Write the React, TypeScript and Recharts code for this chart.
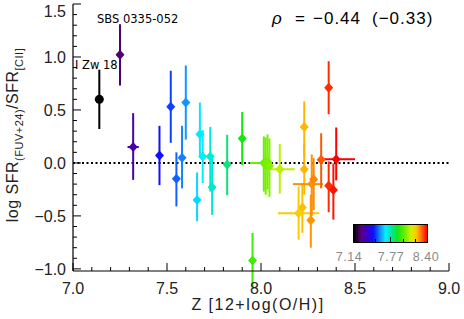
import { ScatterChart, Scatter, XAxis, YAxis, ErrorBar, ReferenceLine } from 'recharts'

// metallicity 12+log(O/H) of each galaxy
const metallicity = [
  7.14, 7.25, 7.32, 7.46, 7.52, 7.55, 7.58, 7.6, 7.66, 7.675, 7.69, 7.73, 7.74, 7.82, 7.9, 7.955,
  8.015, 8.025, 8.035, 8.045, 8.1, 8.2, 8.22, 8.23, 8.23, 8.265, 8.27, 8.28, 8.32, 8.36, 8.36, 8.385, 8.4,
]
// log SFR(FUV+24)/SFR[CII]
const sfrRatio = [
  0.6, 1.02, 0.15, 0.07, 0.53, -0.15, 0.05, 0.57, -0.35, 0.27, 0.06, 0.06, -0.23, -0.015, 0.23, -0.92,
  0.0, -0.02, 0.01, -0.03, -0.06, -0.475, -0.42, 0.34, -0.06, -0.54, -0.2, -0.155, 0.03, 0.71, -0.215, -0.255, 0.035,
]
const ratioErrLow = [
  0.28, 0.29, 0.31, 0.28, 0.34, 0.26, 0.29, 0.35, 0.2, 0.22, 0.25, 0.33, 0.26, 0.29, 0.25, 0.26,
  0.27, 0.28, 0.26, 0.29, 0.23, 0.25, 0.24, 0.27, 0.24, 0.26, 0.3, 0.29, 0.27, 0.25, 0.25, 0.28, 0.2,
]
const ratioErrHigh = [
  0.28, 0.29, 0.32, 0.28, 0.34, 0.25, 0.3, 0.35, 0.26, 0.3, 0.25, 0.28, 0.29, 0.28, 0.25, 0.26,
  0.25, 0.26, 0.26, 0.26, 0.24, 0.25, 0.23, 0.24, 0.24, 0.24, 0.28, 0.2, 0.25, 0.25, 0.23, 0.25, 0.3,
]
const zErrLow = [
  0, 0, 0.03, 0, 0, 0, 0, 0, 0, 0, 0, 0, 0, 0, 0, 0,
  0.075, 0, 0, 0, 0.05, 0.11, 0, 0, 0, 0, 0.1, 0, 0, 0, 0, 0, 0.07,
]
const zErrHigh = [
  0, 0, 0.03, 0, 0, 0, 0, 0, 0, 0, 0, 0, 0, 0, 0, 0,
  0.045, 0, 0, 0, 0.08, 0.11, 0, 0, 0, 0, 0.06, 0, 0, 0, 0, 0, 0.1,
]

const xTicks = [
  7.0, 7.1, 7.2, 7.3, 7.4, 7.5, 7.6, 7.7, 7.8, 7.9, 8.0, 8.1, 8.2, 8.3, 8.4, 8.5, 8.6, 8.7, 8.8, 8.9, 9.0,
]
const yTicks = [
  -1.0, -0.9, -0.8, -0.7, -0.6, -0.5, -0.4, -0.3, -0.2, -0.1, 0.0, 0.1, 0.2, 0.3, 0.4, 0.5, 0.6, 0.7, 0.8,
  0.9, 1.0, 1.1, 1.2, 1.3, 1.4, 1.5,
]
const colorbarLabels = ['7.14', '7.77', '8.40']
const Z_MIN = 7.14
const Z_MAX = 8.4

// plot frame in page pixels
const PL = 73
const PR = 449
const PT = 4
const PB = 271

const FONT = '"Liberation Sans", Arial, Helvetica, sans-serif'

// IDL-like rainbow table
const STOPS: [number, number[]][] = [
  [0, [0, 0, 0]],
  [0.1, [90, 0, 130]],
  [0.2, [50, 0, 220]],
  [0.27, [10, 20, 255]],
  [0.35, [20, 130, 255]],
  [0.43, [0, 240, 255]],
  [0.5, [0, 230, 180]],
  [0.6, [20, 230, 20]],
  [0.7, [110, 240, 0]],
  [0.78, [210, 240, 0]],
  [0.85, [255, 200, 0]],
  [0.9, [255, 140, 0]],
  [0.95, [255, 70, 0]],
  [1, [255, 0, 0]],
]

function rainbow(t: number) {
  t = Math.max(0, Math.min(1, t))
  for (let i = 1; i < STOPS.length; i++) {
    const [t1, c1] = STOPS[i]
    const [t0, c0] = STOPS[i - 1]
    if (t <= t1) {
      const f = (t - t0) / (t1 - t0)
      const c = c0.map((v, k) => Math.round(v + (c1[k] - v) * f))
      return `rgb(${c[0]},${c[1]},${c[2]})`
    }
  }
  return 'rgb(255,0,0)'
}

const gradient = `linear-gradient(to right, ${STOPS.map(([t]) => `${rainbow(t)} ${t * 100}%`).join(', ')})`

const isMajor = (v: number) => Math.abs(v * 2 - Math.round(v * 2)) < 1e-6
const fmt = (v: number) => (v < 0 ? '\u2212' : '') + Math.abs(v).toFixed(1)

function BottomTick(props: any) {
  const { x, payload } = props
  const major = isMajor(payload.value)
  return (
    <g>
      <line x1={x} x2={x} y1={PB} y2={PB - (major ? 8 : 4)} stroke="#000" strokeWidth={1} />
      {major && (
        <text x={x} y={PB + 23} textAnchor="middle" fontSize={16} fontFamily={FONT} fill="#222">
          {fmt(payload.value)}
        </text>
      )}
    </g>
  )
}

function TopTick(props: any) {
  const { x, payload } = props
  const major = isMajor(payload.value)
  return <line x1={x} x2={x} y1={PT} y2={PT + (major ? 8 : 4)} stroke="#000" strokeWidth={1} />
}

function LeftTick(props: any) {
  const { y, payload } = props
  const major = isMajor(payload.value)
  return (
    <g>
      <line x1={PL} x2={PL + (major ? 8 : 4)} y1={y} y2={y} stroke="#000" strokeWidth={1} />
      {major && (
        <text x={PL - 7} y={Math.max(y + 6, 17)} textAnchor="end" fontSize={16} fontFamily={FONT} fill="#222">
          {fmt(payload.value)}
        </text>
      )}
    </g>
  )
}

function RightTick(props: any) {
  const { y, payload } = props
  const major = isMajor(payload.value)
  return <line x1={PR} x2={PR - (major ? 8 : 4)} y1={y} y2={y} stroke="#000" strokeWidth={1} />
}

function Diamond(props: any) {
  const { cx, cy, fill } = props
  return <polygon points={`${cx},${cy - 5} ${cx + 4.5},${cy} ${cx},${cy + 5} ${cx - 4.5},${cy}`} fill={fill} />
}

function Dot(props: any) {
  const { cx, cy, fill } = props
  return <circle cx={cx} cy={cy} r={4.5} fill={fill} />
}

const frame = { stroke: '#000', strokeWidth: 1.2 }

export default function App() {
  const points = metallicity.map((oh, i) => ({
    oh,
    ratio: sfrRatio[i],
    ey: [ratioErrLow[i], ratioErrHigh[i]],
    ex: [zErrLow[i], zErrHigh[i]],
    hasX: zErrLow[i] > 0 || zErrHigh[i] > 0,
    color: rainbow((oh - Z_MIN) / (Z_MAX - Z_MIN)),
  }))

  return (
    <div style={{ position: 'relative', width: 464, height: 319, fontFamily: FONT, background: '#fff' }}>
      <style>{'body{margin:0}'}</style>
      <ScatterChart width={464} height={319} margin={{ top: 4, right: 15, bottom: 18, left: 33 }}>
        <XAxis
          dataKey="oh"
          type="number"
          domain={[7, 9]}
          ticks={xTicks}
          interval={0}
          allowDataOverflow
          height={30}
          tickLine={false}
          axisLine={frame}
          tick={BottomTick}
        />
        <XAxis
          xAxisId="top"
          orientation="top"
          type="number"
          domain={[7, 9]}
          ticks={xTicks}
          interval={0}
          allowDataOverflow
          height={0}
          tickLine={false}
          axisLine={frame}
          tick={TopTick}
        />
        <YAxis
          dataKey="ratio"
          type="number"
          domain={[-1.02, 1.5]}
          ticks={yTicks}
          interval={0}
          allowDataOverflow
          width={40}
          tickLine={false}
          axisLine={frame}
          tick={LeftTick}
        />
        <YAxis
          yAxisId="right"
          orientation="right"
          type="number"
          domain={[-1.02, 1.5]}
          ticks={yTicks}
          interval={0}
          allowDataOverflow
          width={0}
          tickLine={false}
          axisLine={frame}
          tick={RightTick}
        />
        <ReferenceLine y={0} stroke="#000" strokeWidth={2} strokeDasharray="2 2.5" />
        {points.map((p, i) => (
          <Scatter
            key={i}
            data={[p]}
            fill={p.color}
            shape={i === 0 ? Dot : Diamond}
            isAnimationActive={false}
          >
            <ErrorBar dataKey="ey" direction="y" width={0} stroke={p.color} strokeWidth={2} isAnimationActive={false} />
            {p.hasX && (
              <ErrorBar dataKey="ex" direction="x" width={0} stroke={p.color} strokeWidth={2} isAnimationActive={false} />
            )}
          </Scatter>
        ))}
      </ScatterChart>

      {/* annotations */}
      <div style={{ position: 'absolute', left: 97, top: 12, fontSize: 11.5, fontFamily: '"DejaVu Sans", sans-serif', whiteSpace: 'nowrap' }}>
        SBS 0335-052
      </div>
      <div style={{ position: 'absolute', left: 75, top: 58, fontSize: 11.5, fontFamily: '"DejaVu Sans", sans-serif', whiteSpace: 'nowrap' }}>
        I Zw 18
      </div>
      <div style={{ position: 'absolute', left: 272, top: 9, fontSize: 17, whiteSpace: 'nowrap', lineHeight: '20px' }}>
        <span style={{ position: 'absolute', left: 0, fontStyle: 'italic' }}>ρ</span>
        <span style={{ position: 'absolute', left: 23 }}>=</span>
        <span style={{ position: 'absolute', left: 41, letterSpacing: 1 }}>{'\u22120.44'}</span>
        <span style={{ position: 'absolute', left: 100, letterSpacing: 1 }}>{'(\u22120.33)'}</span>
      </div>

      {/* axis titles */}
      <div
        style={{
          position: 'absolute',
          left: 258,
          top: 305,
          transform: 'translate(-50%, -50%)',
          fontSize: 16,
          letterSpacing: 1.5,
          whiteSpace: 'nowrap',
          color: '#222',
        }}
      >
        Z [12+log(O/H)]
      </div>
      <div
        style={{
          position: 'absolute',
          left: 16,
          top: 135,
          transform: 'translate(-50%, -50%) rotate(-90deg)',
          fontSize: 16,
          letterSpacing: 0.5,
          whiteSpace: 'nowrap',
          color: '#222',
          lineHeight: '20px',
        }}
      >
        log SFR<sub style={{ fontSize: 11 }}>(FUV+24)</sub>/SFR<sub style={{ fontSize: 11 }}>[CII]</sub>
      </div>

      {/* colour bar */}
      <div
        style={{
          position: 'absolute',
          left: 353,
          top: 224,
          width: 75,
          height: 19,
          background: gradient,
          border: '1px solid #000',
          boxSizing: 'border-box',
        }}
      >
        {[0.29, 0.49, 0.67, 0.84].map((f, i) => (
          <div
            key={i}
            style={{
              position: 'absolute',
              left: `${f * 100}%`,
              bottom: 0,
              width: 1,
              height: i === 1 ? 5 : 3,
              background: '#000',
            }}
          />
        ))}
      </div>
      {colorbarLabels.map((t, i) => (
        <div
          key={t}
          style={{
            position: 'absolute',
            left: [349, 391, 426][i],
            top: 257,
            transform: 'translate(-50%, -50%)',
            fontSize: 12.5,
            letterSpacing: 0.5,
            color: '#8a8a8a',
            whiteSpace: 'nowrap',
          }}
        >
          {t}
        </div>
      ))}
    </div>
  )
}
